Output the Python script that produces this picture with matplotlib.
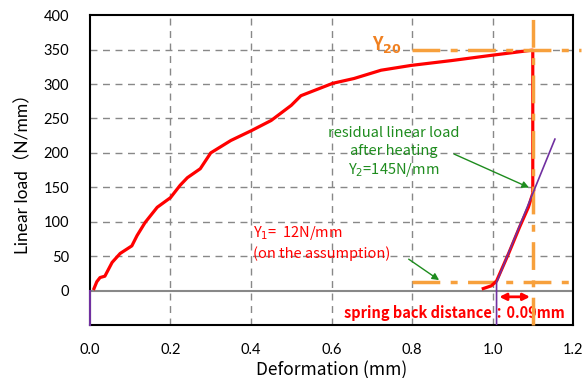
import matplotlib.pyplot as plt

plt.rcParams['font.family'] = ['Noto Sans CJK JP', 'DejaVu Sans']

# loading curve (before heating)
load_x = [0.01, 0.017, 0.025, 0.037, 0.055, 0.075, 0.104, 0.117, 0.137, 0.167, 0.2, 0.224,
          0.242, 0.274, 0.3, 0.35, 0.4, 0.45, 0.5, 0.524, 0.603, 0.656, 0.723, 0.798, 0.898,
          1.002, 1.097, 1.1, 1.1]
load_y = [3, 13, 19, 21, 41, 54, 65, 80, 99, 121, 135, 153, 164, 177, 200, 218, 232, 247, 269,
          283, 301, 308, 320, 327, 334, 342, 349, 349, 145]

# reloading curve after heating
reload_x = [0.977, 0.997, 1.01, 1.04, 1.067, 1.089, 1.102]
reload_y = [3, 7, 14, 54, 92, 121, 145]

# stiffness line
fit_x = [1.01, 1.01, 1.155]
fit_y = [-50, 12, 220]

y20 = 350
y1 = 12
x_unload = 1.1
x_start = 1.01

latin = ['Lato', 'Noto Sans CJK JP']

fig = plt.figure(figsize=(5.82, 3.78), dpi=100)
ax = fig.add_axes([0.1546, 0.14, 0.83, 0.82])

ax.set_xlim(0, 1.2)
ax.set_ylim(-50, 400)
ax.set_xticks([0, 0.2, 0.4, 0.6, 0.8, 1.0, 1.2])
ax.set_xticklabels(['0.0', '0.2', '0.4', '0.6', '0.8', '1.0', '1.2'])
ax.set_yticks([0, 50, 100, 150, 200, 250, 300, 350, 400])
ax.tick_params(length=0, labelsize=10.5)
ax.tick_params(axis='y', pad=15)
ax.tick_params(axis='x', pad=13)
for lab in ax.get_xticklabels() + ax.get_yticklabels():
    lab.set_family(latin)

for gx in [0.2, 0.4, 0.6, 0.8, 1.0]:
    ax.axvline(gx, color='#888888', lw=1, ls=(0, (5, 4)), zorder=1)
for gy in [50, 100, 150, 200, 250, 300, 350]:
    ax.axhline(gy, color='#888888', lw=1, ls=(0, (5, 4)), zorder=1)
ax.axhline(0, color='#888888', lw=1.5, zorder=2)

for s in ax.spines.values():
    s.set_linewidth(1.5)
    s.set_color('black')

ax.set_xlabel('Deformation (mm)', fontsize=12.5, labelpad=3)
ax.set_ylabel('Linear load（N/mm）', fontsize=12.5, family=latin, labelpad=9)

# red curves
ax.plot(load_x, load_y, color='red', lw=2.3, zorder=4)
ax.plot(reload_x, reload_y, color='red', lw=2.3, zorder=4)

# orange dash-dot guides
orange = '#F7A03C'
dd = (0, (8, 3, 2, 3))
ax.plot([x_unload, x_unload], [-50, 400], color=orange, lw=2.5, ls=dd, zorder=5, clip_on=False)
ax.plot([0.8, 1.22], [y20, y20], color=orange, lw=2.5, ls=dd, zorder=5, clip_on=False)
ax.plot([0.8, 1.2], [y1, y1], color=orange, lw=2.5, ls=dd, zorder=3)

# purple lines
ax.plot(fit_x, fit_y, color='#7030A0', lw=1.2, zorder=6)
ax.plot([0, 0], [-50, 0], color='#7030A0', lw=1.5, zorder=6, clip_on=False)

# labels
ax.text(0.775, 358, r'Y$_{\mathbf{20}}$', color='#F08020', fontsize=13, fontweight='bold',
        ha='right', va='center')

ax.text(0.755, 200, 'residual linear load\nafter heating\nY$_2$=145N/mm', color='#1E8C1E',
        fontsize=10.5, ha='center', va='center', linespacing=1.3)
ax.annotate('', xy=(1.097, 148), xytext=(0.898, 200),
            arrowprops=dict(arrowstyle='-|>', color='#1E8C1E', lw=1, mutation_scale=10))

ax.text(0.405, 70, 'Y$_1$=  12N/mm\n(on the assumption)', color='red', fontsize=10.5,
        ha='left', va='center', linespacing=1.4)
ax.annotate('', xy=(0.873, 13), xytext=(0.786, 48),
            arrowprops=dict(arrowstyle='-|>', color='#1E8C1E', lw=1, mutation_scale=10))

ax.annotate('', xy=(x_unload, -9), xytext=(x_start, -9),
            arrowprops=dict(arrowstyle='<|-|>', color='red', lw=2, mutation_scale=10))
ax.text(1.18, -32, 'spring back distance：0.09mm', color='red', fontsize=10.5,
        fontweight='bold', ha='right', va='center')

fig.savefig('out.png', dpi=100)
